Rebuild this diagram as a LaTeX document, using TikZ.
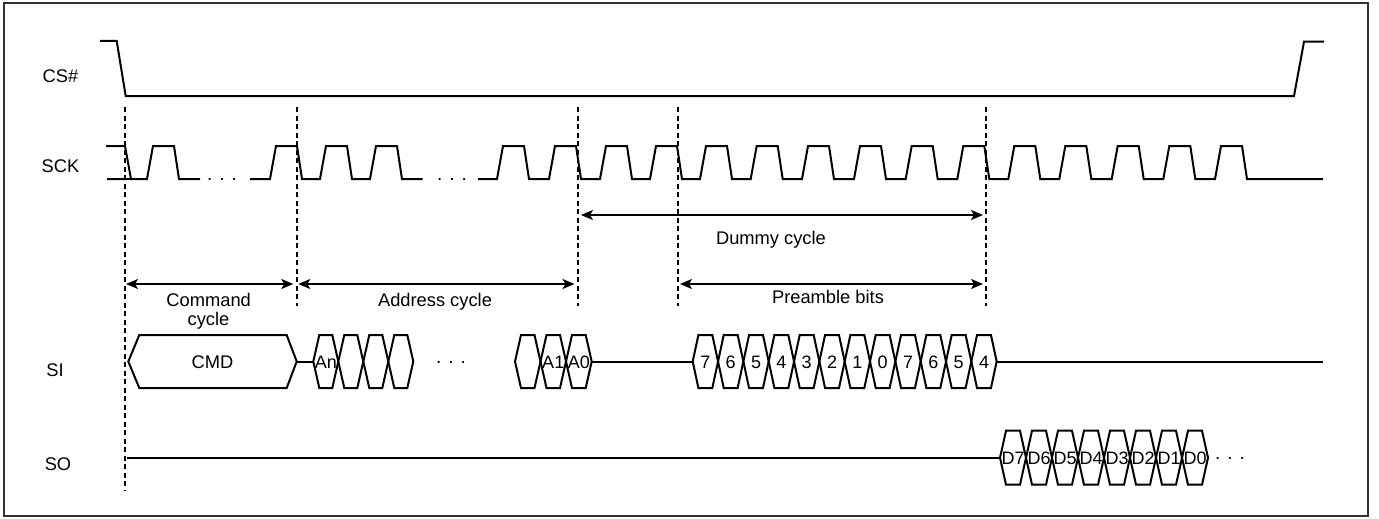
\documentclass[tikz,border=0pt]{standalone}
\usepackage{fontspec}
\setmainfont{Liberation Sans}
\usetikzlibrary{arrows.meta}
\newcommand\hexbox[7]{% x1 x2 yc half slant label name
  \draw[sig] (#1,#3) -- ({#1+#5},{#3-#4}) -- ({#2-#5},{#3-#4}) -- (#2,#3) -- ({#2-#5},{#3+#4}) -- ({#1+#5},{#3+#4}) -- cycle;
  \node[hexlbl] (#7) at ({(#1+#2)/2},{#3+6.5}) {#6};}
\begin{document}
\begin{tikzpicture}[x=1pt,y=-1pt,
  sig/.style={line width=2pt, black, line join=miter},
  dashv/.style={line width=1.7pt, dash pattern=on 5pt off 3.5pt},
  dimarrow/.style={line width=1.7pt, {Stealth[length=12pt,width=10pt,inset=3pt]}-{Stealth[length=12pt,width=10pt,inset=3pt]}},
  lbl/.style={font=\fontsize{18.3}{21}\selectfont, inner sep=0pt, anchor=base},
  hexlbl/.style={font=\fontsize{18}{21}\selectfont, inner sep=0pt, anchor=base},
  dotstxt/.style={font=\fontsize{19}{21}\selectfont, inner sep=0pt, anchor=base}]
\useasboundingbox (0,0) rectangle (1379,519);
\draw[line width=1.6pt, draw=black!80] (4,3) rectangle (1368,516);

% signal labels
\node[lbl] (lcs) at (60.5,83) {CS\#};
\node[lbl] (lsck) at (60.5,172) {SCK};
\node[lbl] (lsi) at (55,376.5) {SI};
\node[lbl] (lso) at (58,470.5) {SO};

% CS#
\draw[sig] (100,41) -- (116.7,41) -- (125.7,96) -- (1294,96) -- (1304,41.7) -- (1324,41.7);

% SCK
\draw[sig] (106,146) -- (125,146) -- (131,179);
\draw[sig] (107,179) \foreach \r in {147} { -- (\r,179) -- (\r+6,146) -- (\r+27,146) -- (\r+32,179) } -- (200,179);
\node[dotstxt] (sdots1) at (222,180) {. . .};
\draw[sig] (250,179) \foreach \r in {270,320,370} { -- (\r,179) -- (\r+6,146) -- (\r+27,146) -- (\r+32,179) } -- (422.7,179);
\node[dotstxt] (sdots2) at (452,180) {. . .};
\draw[sig] (478,179) \foreach \r in {497,549,600,650,700,750.7,802,854,905.7,957.3,1008.3,1059.3,1111.7,1163.3,1215} { -- (\r,179) -- (\r+6,146) -- (\r+27,146) -- (\r+32,179) } -- (1323,179);

% dashed markers
\coordinate (d1t) at (125,107); \coordinate (d1b) at (125,491);
\coordinate (d2t) at (296.7,107); \coordinate (d2b) at (296.7,306);
\coordinate (d3t) at (578.3,107); \coordinate (d3b) at (578.3,306);
\coordinate (d4t) at (677.7,107); \coordinate (d4b) at (677.7,306);
\coordinate (d5t) at (986,107); \coordinate (d5b) at (986,306);
\foreach \i in {1,...,5} { \draw[dashv] (d\i t) -- (d\i b); }

% dimension arrows
\coordinate (cmdL) at (126,284); \coordinate (cmdR) at (293.3,284);
\coordinate (adrL) at (298.3,284); \coordinate (adrR) at (574.5,284);
\coordinate (dumL) at (581,215); \coordinate (dumR) at (983,215);
\coordinate (preL) at (680,284); \coordinate (preR) at (983,284);
\draw[dimarrow] (cmdL) -- (cmdR);
\draw[dimarrow] (adrL) -- (adrR);
\draw[dimarrow] (dumL) -- (dumR);
\draw[dimarrow] (preL) -- (preR);
\node[lbl] (tcmd1) at (208.7,306) {Command};
\node[lbl] (tcmd2) at (208.5,325) {cycle};
\node[lbl] (tadr) at (435,306.7) {Address cycle};
\node[lbl] (tdum) at (771,244) {Dummy cycle};
\node[lbl] (tpre) at (828,303) {Preamble bits};

% SI
\draw[sig] (128.3,361.5) -- (139.3,335) -- (286.7,335) -- (296.7,361.5) -- (286.7,388) -- (139.3,388) -- cycle;
\node[lbl] (cmd) at (212.5,368) {CMD};
\coordinate (cmdE) at (296.7,361.5); \coordinate (anS) at (313.3,361.5);
\draw[sig] (cmdE) -- (anS);
\hexbox{313.3}{338.3}{361.5}{26.5}{6}{An}{a1}
\hexbox{338.3}{363.3}{361.5}{26.5}{6}{}{a2}
\hexbox{363.3}{388.3}{361.5}{26.5}{6}{}{a3}
\hexbox{388.3}{413.3}{361.5}{26.5}{6}{}{a4}
\node[dotstxt] (idots) at (451,363) {. . .};
\hexbox{515}{540.5}{361.5}{26.5}{6}{}{a5}
\hexbox{540.5}{566}{361.5}{26.5}{6}{A1}{a6}
\hexbox{566}{591.7}{361.5}{26.5}{6}{A0}{a7}
\coordinate (a0E) at (591.7,361.5); \coordinate (pS) at (692.7,361.5);
\draw[sig] (a0E) -- (pS);
\foreach \lab [count=\i from 0] in {7,6,5,4,3,2,1,0,7,6,5,4} {
  \pgfmathsetmacro\xa{692.7+\i*25.33}
  \pgfmathsetmacro\xb{\xa+25.33}
  \hexbox{\xa}{\xb}{361.5}{26.5}{5.7}{\lab}{p\i}
}
\coordinate (pE) at (996.7,361.5); \coordinate (siE) at (1323,361.5);
\draw[sig] (pE) -- (siE);

% SO
\coordinate (soS) at (127,457.7); \coordinate (dS) at (1000,457.7);
\draw[sig] (soS) -- (dS);
\foreach \lab [count=\i from 0] in {D7,D6,D5,D4,D3,D2,D1,D0} {
  \pgfmathsetmacro\xa{1000+\i*26}
  \pgfmathsetmacro\xb{\xa+26}
  \hexbox{\xa}{\xb}{457.7}{27}{6}{\lab}{q\i}
}
\node[dotstxt] (odots) at (1230,459) {. . .};
\end{tikzpicture}
\end{document}
